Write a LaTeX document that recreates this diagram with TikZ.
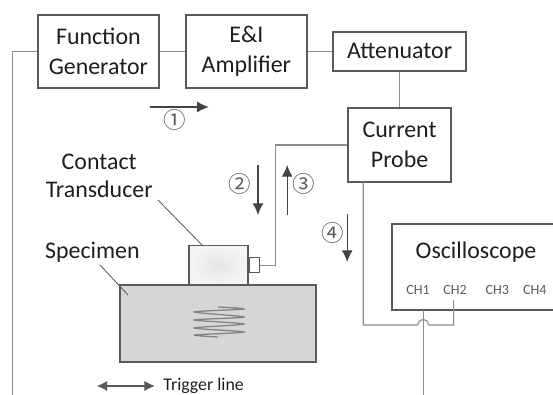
\documentclass[tikz,border=0pt]{standalone}
\usepackage{fontspec}
\setmainfont{Carlito}
\newfontfamily\circfont{Noto Sans CJK SC}
\usetikzlibrary{arrows.meta,calc,positioning}
\definecolor{Ink}{HTML}{1E1E1E}
\definecolor{Edge}{HTML}{5A5A5A}
\definecolor{Wire}{HTML}{8C8C8C}
\definecolor{Slab}{HTML}{D6D6D6}
\definecolor{Head}{HTML}{E6E6E6}
\definecolor{HeadRim}{HTML}{F4F4F4}
\tikzset{
  unitbox/.style={rectangle,draw=Edge,line width=1.1pt,fill=white,inner sep=0pt,align=center,
    text=Ink,font=\fontsize{17}{21.5}\selectfont},
  wire/.style={draw=Wire,line width=0.8pt},
  flowarrow/.style={-{Latex[length=2.9mm,width=2.7mm]},line width=0.8pt,draw=Edge!75!black},
  pointer/.style={draw=Edge,line width=0.6pt},
  tag/.style={text=Ink,font=\fontsize{17}{20}\selectfont,align=center,inner sep=0pt},
  stepno/.style={text=Edge,font=\circfont\fontsize{16}{16}\selectfont,inner sep=0pt},
  chan/.style={text=Edge,font=\fontsize{10}{12}\selectfont,inner sep=0pt},
}
\begin{document}
\begin{tikzpicture}[x=1cm,y=1cm]
    \useasboundingbox (0,0) rectangle (13.825,9.875);
    \node[unitbox,minimum width=3.02cm,minimum height=1.82cm] (func) at (2.46,8.59) {Function\\Generator};
    \node[unitbox,minimum width=3.02cm,minimum height=1.82cm] (amp) at (6.16,8.59) {E\&I\\Amplifier};
    \node[unitbox,minimum width=3.32cm,minimum height=0.98cm] (atten) at (9.99,8.59) {Attenuator};
    \node[unitbox,minimum width=2.57cm,minimum height=1.85cm] (probe) at (9.99,6.25) {Current\\Probe};

    % scope runs off the right side
    \coordinate (scopeNW) at (9.80,4.275);
    \coordinate (scopeSW) at (9.80,2.125);
    \coordinate (scopeSE) at (13.825,2.125);
    \node[tag] (scope) at (11.90,3.575) {Oscilloscope};
    \draw[draw=Edge,line width=1.1pt] (13.825,4.275) -- (scopeNW) -- (scopeSW) -- (scopeSE);
    \node[chan] (ch1) at (10.45,2.625) {CH1};
    \node[chan] (ch2) at (11.375,2.625) {CH2};
    \node[chan] (ch3) at (12.43,2.625) {CH3};
    \node[chan] (ch4) at (13.37,2.625) {CH4};

    \node[draw=Edge,line width=1pt,fill=Slab,minimum width=4.9cm,minimum height=1.925cm,inner sep=0pt] (spec) at (5.45,1.79) {};
    \node[draw=Edge,line width=1pt,inner color=Head,outer color=HeadRim,minimum width=1.47cm,minimum height=0.98cm,inner sep=0pt] (trans) at (5.46,3.24) {};
    \node[draw=Edge,line width=0.8pt,fill=white,minimum width=0.26cm,minimum height=0.375cm,inner sep=0pt,anchor=west] (plug) at (trans.east) {};

    \draw[wire] (func.east) -- (amp.west);
    \draw[wire] (amp.east) -- (atten.west);
    \draw[wire] (atten.south) -- (atten.south |- probe.north);
    \draw[wire] (func.west) -- ++(-0.62,0) coordinate (left) -- (left |- 0,0);
    \draw[wire] (probe.west) -- (6.88,6.25) |- (plug.east);
    \coordinate (hopL) at (10.44,1.75);
    \draw[wire] (9.08,5.325) -- (9.08,1.75) -- (hopL) arc (180:0:0.14) -- (11.34,1.75) -- (11.34,2.375);
    \draw[wire] (10.58,2.125) -- (10.58,0);

    \draw[flowarrow] (3.75,7.20) -- (5.22,7.20);
    \node[stepno] (n1) at (4.37,6.88) {①};
    \draw[flowarrow] (6.45,5.75) -- (6.45,4.50);
    \node[stepno] (n2) at (6.00,5.275) {②};
    \draw[flowarrow] (7.18,4.50) -- (7.18,5.75);
    \node[stepno] (n3) at (7.60,5.275) {③};
    \draw[flowarrow] (8.68,4.525) -- (8.68,3.325);
    \node[stepno] (n4) at (8.325,4.05) {④};

    \node[tag] (contact) at (2.48,5.47) {Contact\\Transducer};
    \node[tag] (specimen) at (2.31,3.575) {Specimen};
    \coordinate (contactEnd) at (3.95,4.875);
    \coordinate (specimenEnd) at (2.50,3.25);
    \draw[pointer] (contactEnd) -- (5.05,3.75);
    \draw[pointer] (specimenEnd) -- (3.20,2.50);

    % coil inside the specimen
    \draw[draw=Edge!75,line width=0.9pt] plot[smooth,tension=0.45] coordinates {
      (5.45,2.20) (6.10,2.15) (4.86,2.075) (6.10,1.95) (4.86,1.875)
      (6.10,1.775) (4.86,1.675) (6.10,1.575) (4.86,1.50) (5.45,1.45)};

    \coordinate (trigL) at (2.42,0.225);
    \coordinate (trigR) at (3.87,0.225);
    \draw[{Latex[length=2.6mm,width=2.6mm]}-{Latex[length=2.6mm,width=2.6mm]},line width=0.8pt,draw=Edge] (trigL) -- (trigR);
    \node[anchor=west,text=Ink,font=\fontsize{12.7}{15}\selectfont,inner sep=0pt] (trig) at (4.08,0.225) {Trigger line};
  \end{tikzpicture}
\end{document}
